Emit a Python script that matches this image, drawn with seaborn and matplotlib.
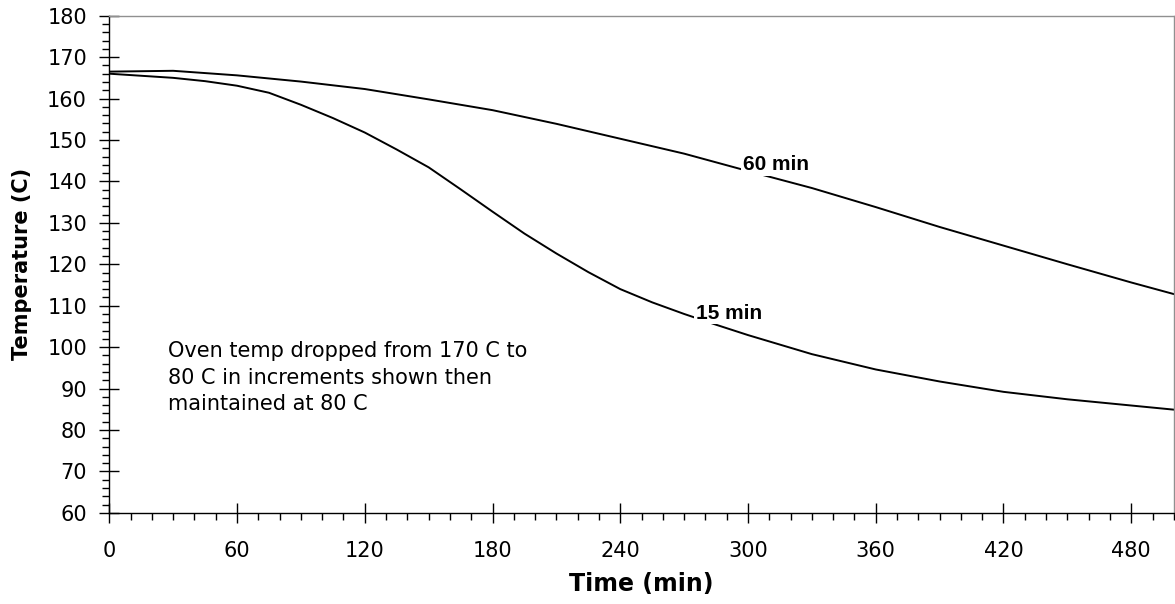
import pandas as pd
import matplotlib.pyplot as plt
import matplotlib.ticker as mticker
import seaborn as sns

# Oven cooling curves
time_60 = [0, 30, 60, 90, 120, 150, 180, 210, 240, 270, 300, 330, 360,
           390, 420, 450, 480, 500]
temp_60 = [166.5, 166.7, 165.6, 164.1, 162.3, 159.8, 157.2, 153.9, 150.3,
           146.7, 142.5, 138.4, 133.8, 129.0, 124.5, 120.0, 115.6, 112.8]

time_15 = [0, 30, 45, 60, 75, 90, 105, 120, 135, 150, 165, 180, 195, 210,
           225, 240, 255, 270, 285, 300, 330, 360, 390, 420, 450, 480, 500]
temp_15 = [166.0, 165.0, 164.2, 163.1, 161.4, 158.5, 155.3, 151.8, 147.7,
           143.4, 138.1, 132.7, 127.4, 122.6, 118.1, 114.0, 110.8, 108.0,
           105.4, 102.9, 98.3, 94.6, 91.7, 89.2, 87.4, 85.9, 84.9]

series_names = ['60 min', '15 min']
label_pos = [(313, 144.0), (291, 108.2)]   # where the inline labels sit
note_text = ('Oven temp dropped from 170 C to\n80 C in increments shown then\n'
             'maintained at 80 C')

df = pd.concat([
    pd.DataFrame({'time': time_60, 'temp': temp_60, 'step': series_names[0]}),
    pd.DataFrame({'time': time_15, 'temp': temp_15, 'step': series_names[1]}),
])

sns.set_style('ticks')
plt.rcParams['font.family'] = ['DejaVu Sans']
plt.rcParams.update({
    'text.color': 'black',
    'axes.labelcolor': 'black',
    'xtick.color': 'black',
    'ytick.color': 'black',
})

fig = plt.figure(figsize=(11.75, 6.04), dpi=100)
ax = fig.add_axes([0.093, 0.151, 0.906, 0.823])

sns.lineplot(data=df, x='time', y='temp', hue='step',
             palette={n: 'black' for n in series_names},
             estimator=None, sort=False, linewidth=1.4, legend=False, ax=ax)

# inline curve labels, white box breaks the line
for name, (tx, ty) in zip(series_names, label_pos):
    ax.text(tx, ty, name, ha='center', va='center', fontsize=15,
            fontweight='bold', family=['Liberation Sans', 'DejaVu Sans'],
            zorder=5, bbox=dict(facecolor='white', edgecolor='none', pad=1))

ax.text(27.7, 101.4, note_text, ha='left', va='top', fontsize=15,
        linespacing=1.4)

ax.set_xlim(0, 500)
ax.set_ylim(60, 180)
ax.xaxis.set_major_locator(mticker.MultipleLocator(60))
ax.xaxis.set_minor_locator(mticker.MultipleLocator(10))
ax.yaxis.set_major_locator(mticker.MultipleLocator(10))
ax.yaxis.set_minor_locator(mticker.MultipleLocator(2))
ax.tick_params(which='major', direction='inout', length=14, width=1,
               labelsize=15, color='black', labelcolor='black')
ax.tick_params(which='minor', direction='out', length=5, width=1,
               color='black')
ax.tick_params(axis='x', which='major', pad=13)
ax.tick_params(axis='y', which='major', pad=9)

ax.set_xlabel('Time (min)', fontsize=17, fontweight='bold', labelpad=8)
ax.set_ylabel('Temperature (C)', fontsize=15, fontweight='bold', labelpad=11)

for side in ['left', 'bottom']:
    ax.spines[side].set_color('black')
    ax.spines[side].set_linewidth(1)
for side in ['top', 'right']:
    ax.spines[side].set_visible(True)
    ax.spines[side].set_color('#909090')
    ax.spines[side].set_linewidth(1)

fig.savefig('out.png', dpi=100, facecolor='white')
